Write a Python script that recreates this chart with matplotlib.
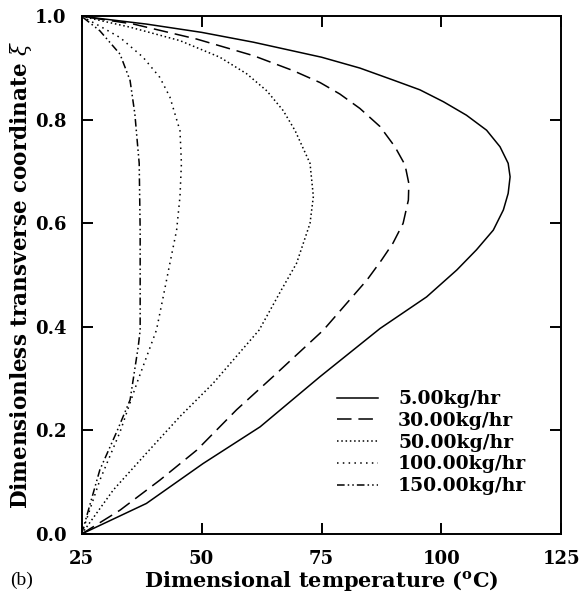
import matplotlib
matplotlib.use("Agg")
import matplotlib.pyplot as plt

# ---- data (temperature in degC vs dimensionless xi) ----
xi_5 = [0, 0.059, 0.136, 0.207, 0.304, 0.397, 0.458, 0.510, 0.549, 0.587, 0.626,
        0.658, 0.690, 0.716, 0.748, 0.780, 0.809, 0.835, 0.858, 0.877, 0.900,
        0.921, 0.95, 0.969, 0.985, 1.0]
T_5 = [25, 38.5, 50.3, 62.2, 74.7, 87.2, 96.9, 103.2, 107.3, 110.8, 112.9,
       113.9, 114.3, 113.9, 112.2, 109.4, 105.2, 100.4, 95.5, 89.9, 83.0,
       75.0, 60.8, 50.0, 38.5, 25]

xi_30 = [0, 0.046, 0.104, 0.162, 0.240, 0.304, 0.394, 0.491, 0.529, 0.562, 0.600,
         0.645, 0.677, 0.713, 0.748, 0.787, 0.822, 0.850, 0.872, 0.895, 0.924,
         0.956, 0.985, 1.0]
T_30 = [25, 33.0, 41.3, 49.0, 57.3, 64.9, 75.4, 84.5, 87.5, 89.9, 92.0,
        93.1, 93.2, 92.4, 90.3, 87.2, 83.0, 78.8, 74.7, 69.1, 60.8,
        49.0, 35.8, 25]

xi_50 = [0, 0.085, 0.156, 0.227, 0.291, 0.394, 0.471, 0.523, 0.600, 0.652, 0.716,
         0.779, 0.818, 0.856, 0.889, 0.921, 0.953, 0.979, 1.0]
T_50 = [25, 31.6, 38.5, 45.5, 52.4, 62.0, 66.6, 69.8, 72.6, 73.3, 72.6,
        69.5, 67.0, 63.6, 59.4, 53.8, 45.5, 35.1, 25]

xi_100 = [0, 0.104, 0.197, 0.291, 0.394, 0.458, 0.523, 0.587, 0.652, 0.716, 0.779,
          0.844, 0.882, 0.921, 0.959, 0.98, 1.0]
T_100 = [25, 28.8, 33.0, 36.5, 40.6, 42.0, 43.4, 44.8, 45.5, 45.8, 45.5,
         43.4, 41.3, 37.8, 33.0, 29.0, 25]

xi_150 = [0, 0.124, 0.197, 0.259, 0.362, 0.394, 0.587, 0.716, 0.779, 0.811, 0.876,
          0.927, 0.972, 1.0]
T_150 = [25, 28.8, 32.3, 35.1, 36.8, 37.2, 37.2, 37.0, 36.4, 36.1, 35.1,
         33.0, 28.8, 25]

labels = ["5.00kg/hr", "30.00kg/hr", "50.00kg/hr", "100.00kg/hr", "150.00kg/hr"]
x_ticks = [25, 50, 75, 100, 125]
y_ticks = [0.0, 0.2, 0.4, 0.6, 0.8, 1.0]

# ---- styling ----
plt.rcParams["font.family"] = ["DejaVu Serif"]
plt.rcParams["mathtext.fontset"] = "dejavuserif"

fig = plt.figure(figsize=(5.83, 5.93), dpi=100)
ax = fig.add_axes([0.140, 0.0995, 0.823, 0.873])

lw = 1.1
styles = [
    "-",
    (0, (9.5, 4.5)),
    (0, (1, 1.8)),
    (0, (1, 2.8)),
    (0, (5, 2, 1, 2, 1, 2)),
]
series = [(T_5, xi_5), (T_30, xi_30), (T_50, xi_50), (T_100, xi_100), (T_150, xi_150)]
for (T, xi), ls, lab in zip(series, styles, labels):
    ax.plot(T, xi, color="black", lw=lw, linestyle=ls, label=lab)

ax.set_xlim(25, 125)
ax.set_ylim(0, 1)
ax.set_xticks(x_ticks)
ax.set_yticks(y_ticks)
ax.set_xticklabels([str(v) for v in x_ticks])
ax.set_yticklabels([f"{v:.1f}" for v in y_ticks])

for s in ax.spines.values():
    s.set_linewidth(1.4)
ax.tick_params(direction="in", length=8, width=1.4, top=True, right=True,
               labelsize=13)
ax.tick_params(axis="x", pad=11.5)
ax.tick_params(axis="y", pad=11)
for t in ax.get_xticklabels() + ax.get_yticklabels():
    t.set_fontweight("bold")

ax.set_xlabel(r"Dimensional temperature ($^{\mathbf{o}}$C)", fontsize=15,
              fontweight="bold", va="center")
ax.xaxis.set_label_coords(0.5, (534 - 581) / 517.7)
ax.set_ylabel(r"Dimensionless transverse coordinate $\xi$", fontsize=15.5,
              fontweight="bold", va="center")
ax.yaxis.set_label_coords((21 - 81.7) / 479.8, 0.5)

leg = ax.legend(loc="upper left", bbox_to_anchor=(0.532, 0.278), frameon=False,
                borderpad=0, borderaxespad=0, handlelength=2.19,
                handletextpad=1.07, labelspacing=0.2,
                prop={"family": "DejaVu Serif", "weight": "bold", "size": 13.5})

fig.text(10 / 583, 1 - 580 / 593, "(b)", family="Liberation Serif", fontsize=14,
         ha="left", va="center")

fig.savefig("out.png", dpi=100)
